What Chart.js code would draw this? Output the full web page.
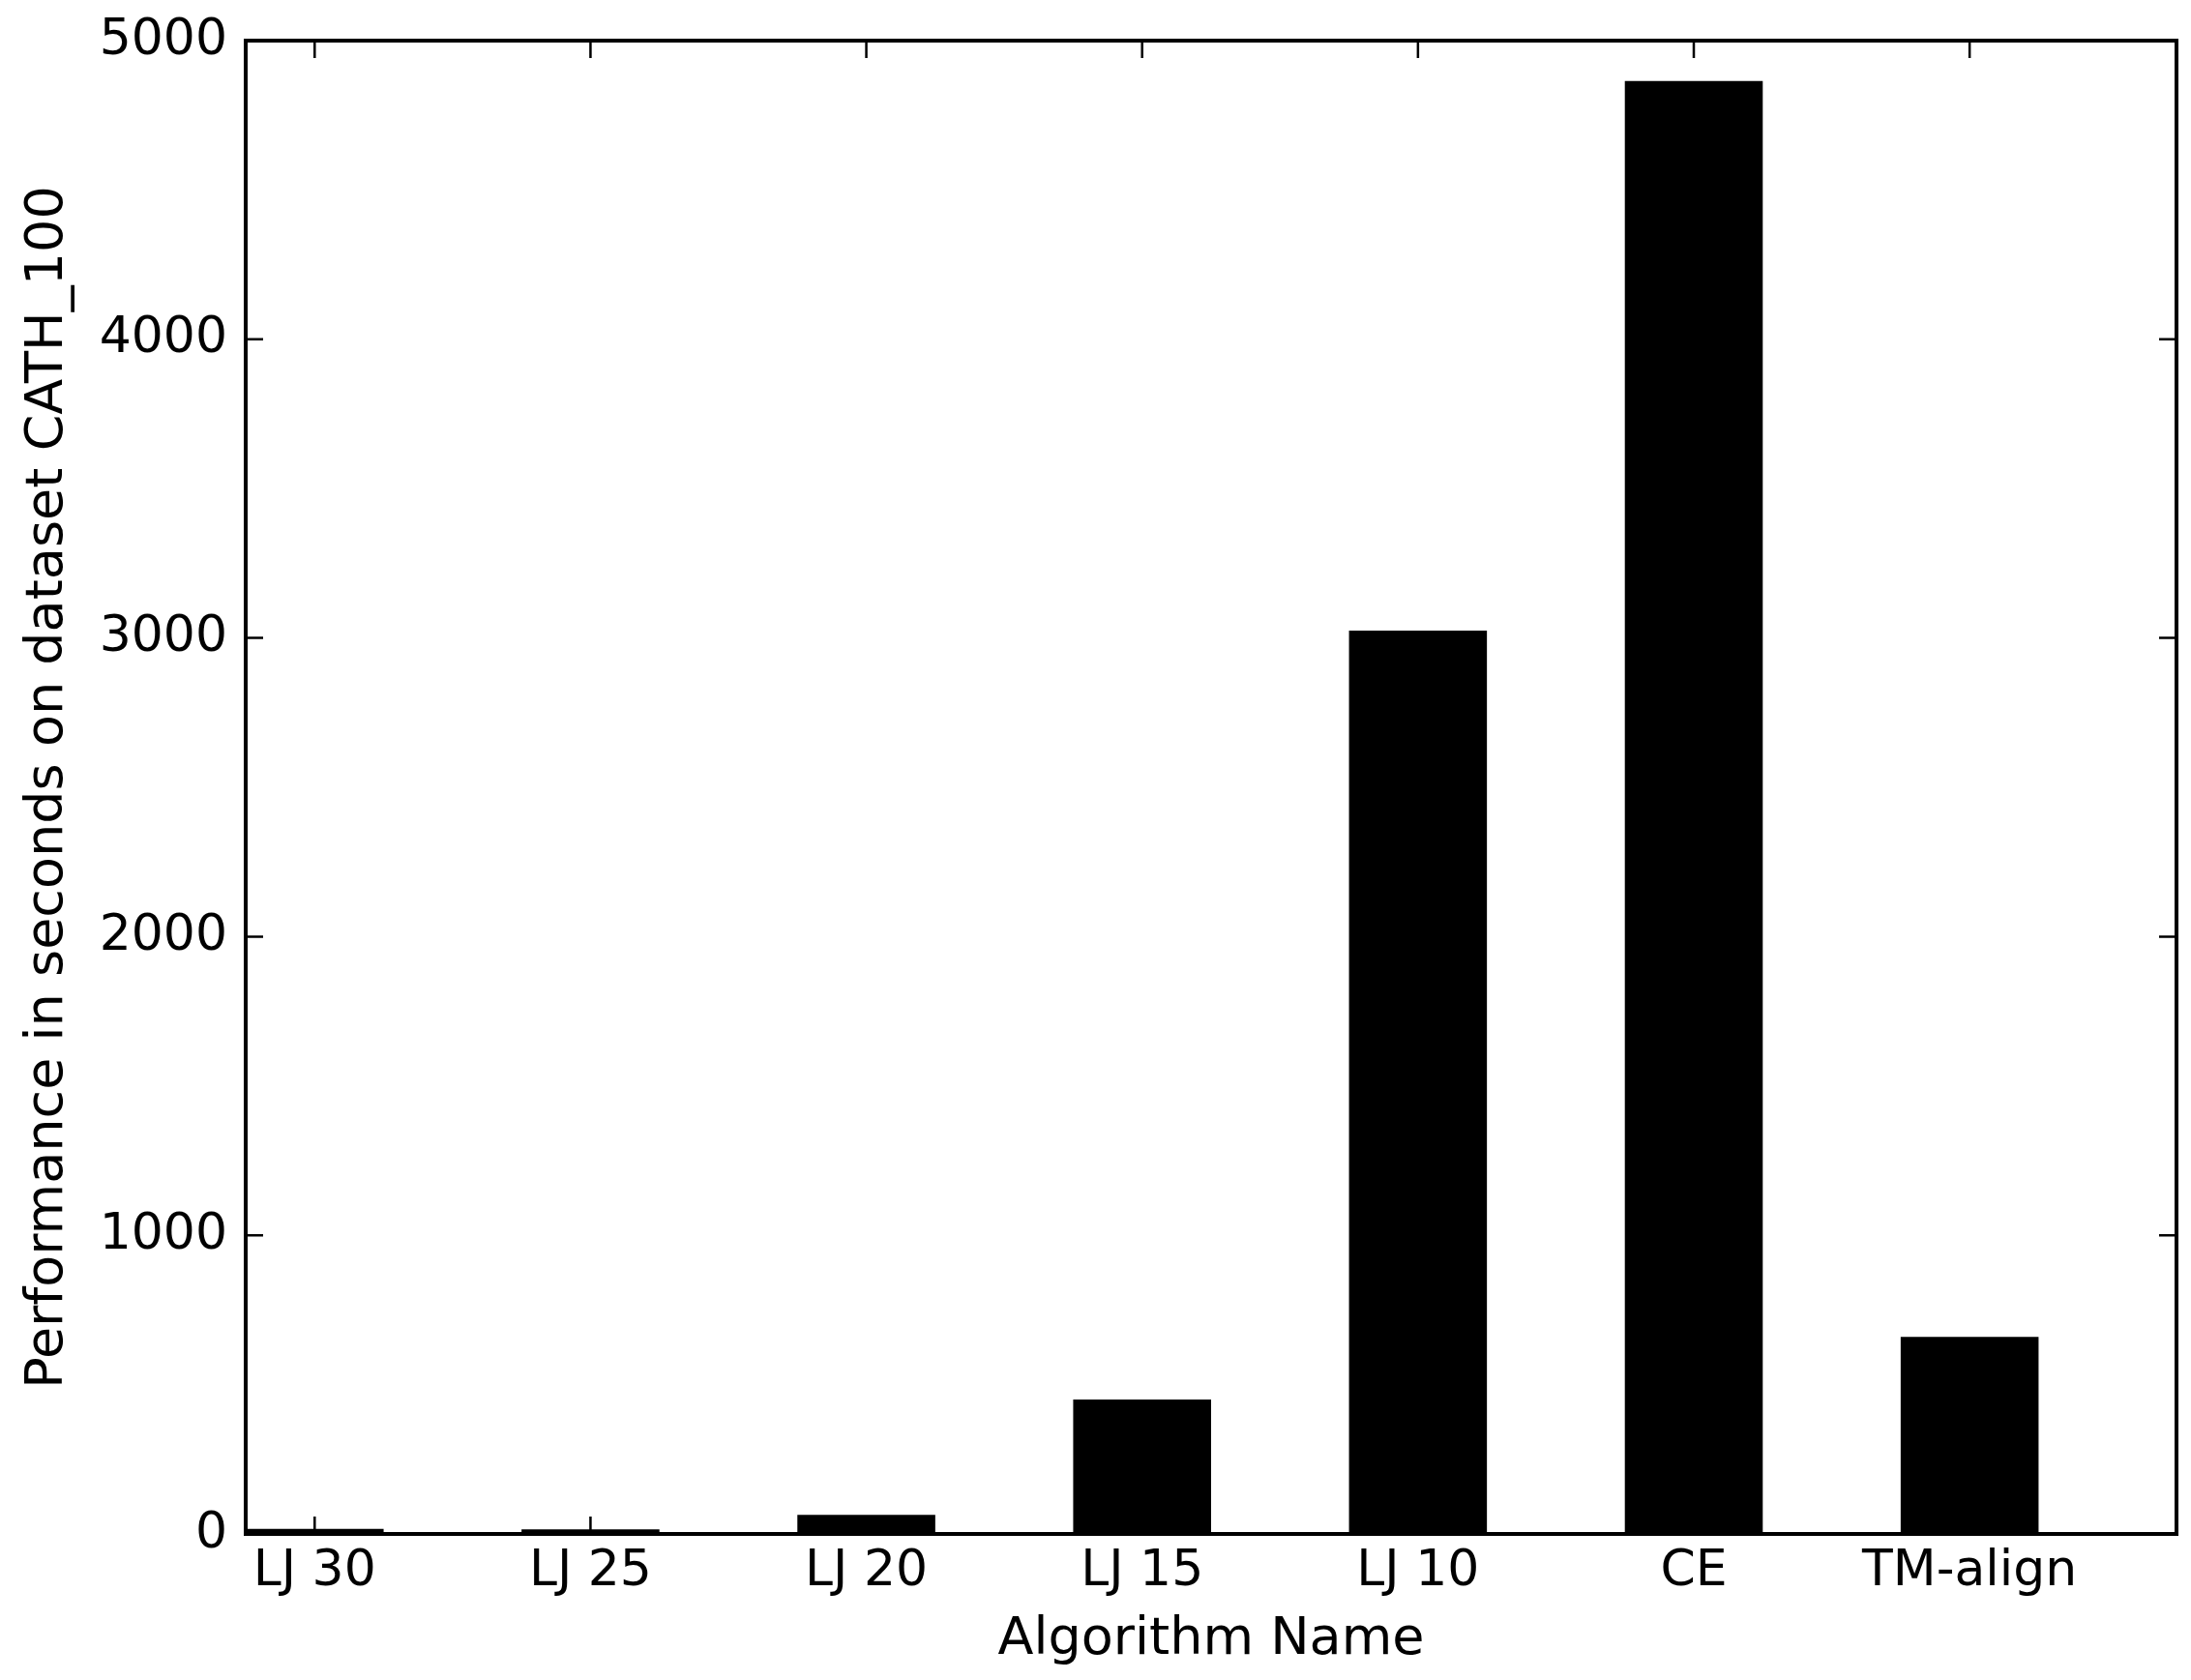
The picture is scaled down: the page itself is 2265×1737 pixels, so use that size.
<!DOCTYPE html>
<html>
<head>
<meta charset="utf-8">
<script src="https://cdn.jsdelivr.net/npm/chart.js@4.4.1/dist/chart.umd.min.js"></script>
<style>
  body { margin: 0; background: #fff; }
  canvas { display: block; }
</style>
</head>
<body>
<canvas id="myChart" width="2265" height="1737"></canvas>
<script>
// data
const categories = ['LJ 30', 'LJ 25', 'LJ 20', 'LJ 15', 'LJ 10', 'CE', 'TM-align'];
const seconds = [17, 15, 64, 450, 3025, 4865, 660];
const yTicks = [0, 1000, 2000, 3000, 4000, 5000];

const xTitle = 'Algorithm Name';
const yTitle = 'Performance in seconds on dataset CATH_100';

// bars start at integer slots (matplotlib edge alignment), width 0.5, tick at bar middle
const barPoints = seconds.map((v, i) => ({ x: i + 0.25, y: v }));

// inward ticks on all four sides + the black frame
const frameTicks = {
    id: 'frameTicks',
    afterDatasetsDraw(chart) {
        const { ctx, chartArea } = chart;
        const xs = chart.scales.x;
        const ys = chart.scales.y;
        const len = 18;
        ctx.save();
        ctx.strokeStyle = '#000';
        ctx.lineWidth = 2.5;
        ctx.beginPath();
        xs.ticks.forEach(t => {
            const px = xs.getPixelForValue(t.value);
            ctx.moveTo(px, chartArea.bottom);
            ctx.lineTo(px, chartArea.bottom - len);
            ctx.moveTo(px, chartArea.top);
            ctx.lineTo(px, chartArea.top + len);
        });
        ys.ticks.forEach(t => {
            const py = ys.getPixelForValue(t.value);
            ctx.moveTo(chartArea.left, py);
            ctx.lineTo(chartArea.left + len, py);
            ctx.moveTo(chartArea.right, py);
            ctx.lineTo(chartArea.right - len, py);
        });
        ctx.stroke();
        ctx.lineWidth = 4;
        ctx.strokeRect(chartArea.left, chartArea.top,
            chartArea.right - chartArea.left, chartArea.bottom - chartArea.top);
        ctx.restore();
    }
};

const font = { family: 'DejaVu Sans', size: 52 };
const titleFont = { family: 'DejaVu Sans', size: 54, lineHeight: 1 };

const ctx = document.getElementById('myChart').getContext('2d');
new Chart(ctx, {
    type: 'bar',
    data: {
        datasets: [{
            data: barPoints,
            backgroundColor: '#000',
            borderWidth: 0,
            barPercentage: 0.5,
            categoryPercentage: 1.0
        }]
    },
    options: {
        responsive: false,
        animation: false,
        layout: {
            padding: { left: 0, top: 42, right: 15, bottom: 14 }
        },
        plugins: {
            legend: { display: false },
            tooltip: { enabled: false }
        },
        scales: {
            x: {
                type: 'linear',
                min: 0,
                max: categories.length,
                offset: false,
                grid: { display: false, drawTicks: false },
                border: { display: false },
                afterBuildTicks: (scale) => {
                    scale.ticks = categories.map((c, i) => ({ value: i + 0.25 }));
                },
                afterFit: (scale) => {
                    scale.height = 137;
                    scale.paddingLeft = 0;
                    scale.paddingRight = 0;
                },
                ticks: {
                    color: '#000',
                    font: font,
                    padding: 8,
                    maxRotation: 0,
                    autoSkip: false,
                    callback: function(value) {
                        return categories[Math.round(value - 0.25)];
                    }
                },
                title: {
                    display: true,
                    text: xTitle,
                    color: '#000',
                    font: titleFont,
                    padding: 0
                }
            },
            y: {
                min: 0,
                max: 5000,
                grid: { display: false, drawTicks: false },
                border: { display: false },
                afterBuildTicks: (scale) => {
                    scale.ticks = yTicks.map(v => ({ value: v }));
                },
                afterFit: (scale) => {
                    scale.width = 254;
                    scale.paddingTop = 0;
                    scale.paddingBottom = 0;
                },
                ticks: {
                    color: '#000',
                    font: font,
                    padding: 19,
                    callback: function(value) {
                        return String(value);
                    }
                },
                title: {
                    display: true,
                    text: yTitle,
                    color: '#000',
                    font: titleFont,
                    padding: { top: 23, bottom: 0 }
                }
            }
        }
    },
    plugins: [frameTicks]
});
</script>
</body>
</html>
